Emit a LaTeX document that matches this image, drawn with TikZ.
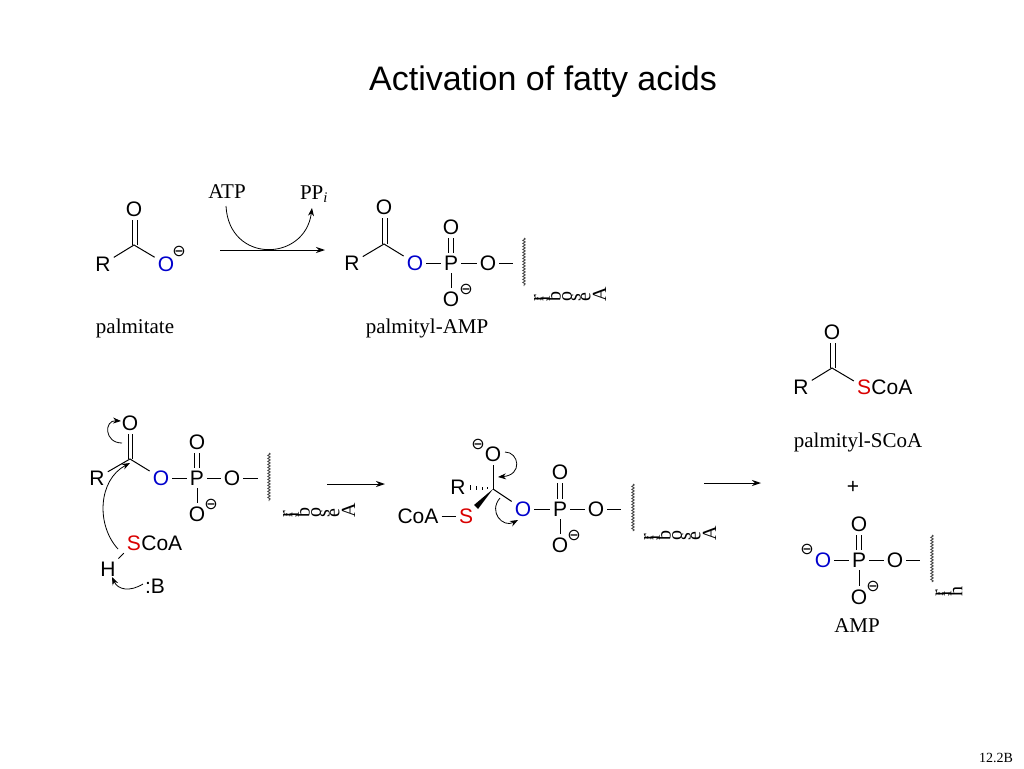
\documentclass[tikz,border=0pt]{standalone}
\usepackage{fontspec}
\usepackage{graphicx}
\usepackage{tikz}
\usetikzlibrary{arrows.meta,decorations.pathmorphing}
\setmainfont{Liberation Serif}
\setsansfont{Liberation Sans}
\newfontfamily\symfont{DejaVu Sans}
\newcommand{\turnedletter}[1]{\setbox0\hbox{#1}\hbox to \dimexpr\wd0+1pt\relax{\hss\rotatebox{90}{#1}}}
\newcommand{\ribosemark}{\turnedletter{r}\turnedletter{i}\turnedletter{b}\turnedletter{o}\turnedletter{s}\turnedletter{e}\turnedletter{A}}
\tikzset{
atom/.style={font=\fontsize{21}{25}\selectfont\sffamily, inner sep=3pt},
blueatom/.style={atom, text=blue!80!black},
redatom/.style={atom, text=red!85!black},
charge/.style={font=\fontsize{16}{18}\selectfont\symfont, inner sep=0pt},
caption/.style={font=\fontsize{21}{25}\selectfont, inner sep=0pt},
bond/.style={draw=black, line width=1pt},
hashbond/.style={draw=black, line width=0.9pt},
wavy/.style={draw=black!70, line width=0.9pt, decorate, decoration={snake, segment length=3pt, amplitude=1.2pt}},
reactarrow/.style={draw=black, line width=1pt, -{Stealth[length=9pt,width=6pt]}},
pusharrow/.style={draw=black, line width=0.8pt, -{Stealth[length=8pt,width=6pt]}},
sugarstack/.style={inner sep=0pt, font=\fontsize{20}{24}\selectfont, anchor=base west},
}
\begin{document}
\begin{tikzpicture}[x=1pt, y=-1pt]
\useasboundingbox (0,0) rectangle (1024,768);
\node[font=\fontsize{34}{40}\selectfont\sffamily, inner sep=0pt] (TitleText) at (543,82) {Activation of fatty acids};
\node[font=\fontsize{14}{16}\selectfont, inner sep=0pt] (PageTag) at (996,758) {12.2B};
\node[atom] (G1NO) at (134,209) {O};
\node[atom] (G1NR) at (103,264) {R};
\node[blueatom] (G1NOb) at (166,264) {O};
\node[charge] (G1Nq) at (179,251) {⊖};
\coordinate (G1NC) at (134,245);
\draw[bond] (G1NR) -- (G1NC) -- (G1NOb);
\draw[bond] ([xshift=-2pt]G1NC) -- ([xshift=-2pt]G1NO.south);
\draw[bond] ([xshift=3pt]G1NC) -- ([xshift=3pt]G1NO.south);
\node[caption] (G1Ncap) at (135,328) {palmitate};
\node[caption] (ArrNatp) at (227,192) {ATP};
\node[caption] (ArrNppi) at (314,194) {PP\textsubscript{\itshape i}};
\coordinate (ArrNa) at (220,250);
\coordinate (ArrNb) at (325,250);
\coordinate (ArrNc) at (226,206);
\coordinate (ArrNd) at (312,208);
\draw[reactarrow] (ArrNa) -- (ArrNb);
\draw[pusharrow] (ArrNc) .. controls (229,264) and (305,262) .. (ArrNd);
\node[atom] (G2NO) at (384,207) {O};
\node[atom] (G2NR) at (352,263) {R};
\node[blueatom] (G2NOb) at (415,263) {O};
\node[atom] (G2NP) at (451,263) {P};
\node[atom] (G2NOt) at (451,227) {O};
\node[atom] (G2NOd) at (451,299) {O};
\node[atom] (G2NOr) at (488,263) {O};
\node[charge] (G2Nq) at (466,289) {⊖};
\coordinate (G2NC) at (384,244);
\coordinate (G2NE) at (513,263);
\coordinate (G2NWa) at (524,238);
\coordinate (G2NWb) at (524,286);
\draw[bond] (G2NR) -- (G2NC) -- (G2NOb);
\draw[bond] ([xshift=-2pt]G2NC) -- ([xshift=-2pt]G2NO.south);
\draw[bond] ([xshift=3pt]G2NC) -- ([xshift=3pt]G2NO.south);
\draw[bond] (G2NOb) -- (G2NP);
\draw[bond] (G2NP) -- (G2NOr);
\draw[bond] (G2NP) -- (G2NOd);
\draw[bond] ([xshift=-2.5pt]G2NP.north) -- ([xshift=-2.5pt]G2NOt.south);
\draw[bond] ([xshift=2.5pt]G2NP.north) -- ([xshift=2.5pt]G2NOt.south);
\draw[bond] (G2NOr) -- (G2NE);
\draw[wavy] (G2NWa) -- (G2NWb);
\node[sugarstack] (G2Nsug) at (535.5,301) {\ribosemark};
\node[caption] (G2Ncap) at (427,328) {palmityl-AMP};
\node[atom] (G3NO) at (832,332) {O};
\node[atom] (G3NR) at (801,387) {R};
\node[redatom] (G3NS) at (864,387) {S};
\node[atom, anchor=west, inner sep=0pt] (G3NCoA) at ([xshift=-3pt]G3NS.east) {CoA};
\coordinate (G3NC) at (832,368);
\draw[bond] (G3NR) -- (G3NC) -- (G3NS);
\draw[bond] ([xshift=-2pt]G3NC) -- ([xshift=-2pt]G3NO.south);
\draw[bond] ([xshift=3pt]G3NC) -- ([xshift=3pt]G3NO.south);
\node[caption] (G3Ncap) at (858,442) {palmityl-SCoA};
\node[atom] (G3Nplus) at (853,487) {+};
\node[atom] (G4NO) at (130,423) {O};
\node[atom] (G4NR) at (97,478) {R};
\node[blueatom] (G4NOb) at (161,478) {O};
\node[atom] (G4NP) at (197,478) {P};
\node[atom] (G4NOt) at (197,442) {O};
\node[atom] (G4NOd) at (197,514) {O};
\node[atom] (G4NOr) at (232,478) {O};
\node[charge] (G4Nq) at (211,504) {⊖};
\coordinate (G4NC) at (130,459);
\coordinate (G4NE) at (258,478);
\coordinate (G4NWa) at (269,453);
\coordinate (G4NWb) at (269,501);
\draw[bond] (G4NR) -- (G4NC) -- (G4NOb);
\draw[bond] ([xshift=-2pt]G4NC) -- ([xshift=-2pt]G4NO.south);
\draw[bond] ([xshift=2pt]G4NC) -- ([xshift=2pt]G4NO.south);
\draw[bond] (G4NOb) -- (G4NP);
\draw[bond] (G4NP) -- (G4NOr);
\draw[bond] (G4NP) -- (G4NOd);
\draw[bond] ([xshift=-2.5pt]G4NP.north) -- ([xshift=-2.5pt]G4NOt.south);
\draw[bond] ([xshift=2.5pt]G4NP.north) -- ([xshift=2.5pt]G4NOt.south);
\draw[bond] (G4NOr) -- (G4NE);
\draw[wavy] (G4NWa) -- (G4NWb);
\node[sugarstack] (G4Nsug) at (284.5,517) {\ribosemark};
\node[redatom] (G4NS) at (134,543) {S};
\node[atom, anchor=west, inner sep=0pt] (G4NCoA) at ([xshift=-3pt]G4NS.east) {CoA};
\node[atom] (G4NH) at (108,569) {H};
\node[atom] (G4NB) at (155,586) {:B};
\draw[bond] (G4NH) -- (G4NS);
\coordinate (G4NAa) at (122,443);
\coordinate (G4NAb) at (121,421);
\coordinate (G4NAc) at (118,549);
\coordinate (G4NAd) at (130,463);
\coordinate (G4NAe) at (143,584);
\coordinate (G4NAf) at (112,577);
\draw[pusharrow] (G4NAa) .. controls (104,443) and (104,420) .. (G4NAb);
\draw[pusharrow] (G4NAc) .. controls (96,525) and (98,480) .. (G4NAd);
\draw[pusharrow] (G4NAe) .. controls (130,592) and (118,590) .. (G4NAf);
\coordinate (Arr2Na) at (327,484);
\coordinate (Arr2Nb) at (385,484);
\draw[reactarrow] (Arr2Na) -- (Arr2Nb);
\node[atom] (G5NO) at (493,454) {O};
\node[charge] (G5Nq) at (478,444) {⊖};
\node[atom] (G5NR) at (458,487) {R};
\node[atom] (G5NCoA) at (418,516) {CoA};
\node[redatom] (G5NS) at (466,516) {S};
\node[blueatom] (G5NOb) at (523,509) {O};
\node[atom] (G5NP) at (560,509) {P};
\node[atom] (G5NOt) at (560,472) {O};
\node[atom] (G5NOd) at (560,545) {O};
\node[atom] (G5NOr) at (596,509) {O};
\node[charge] (G5Nq2) at (574,535) {⊖};
\coordinate (G5NC) at (493,489);
\coordinate (G5NE) at (621,509);
\coordinate (G5NWa) at (633,484);
\coordinate (G5NWb) at (633,531);
\draw[bond] (G5NC) -- (G5NO);
\draw[bond] (G5NC) -- (G5NOb);
\draw[bond] (G5NCoA) -- (G5NS);
\draw[hashbond] ([xshift=-23pt,yshift=4pt]G5NC) -- ([xshift=-23pt,yshift=-1pt]G5NC);
\draw[hashbond] ([xshift=-17pt,yshift=3pt]G5NC) -- ([xshift=-17pt,yshift=-1pt]G5NC);
\draw[hashbond] ([xshift=-11pt,yshift=2pt]G5NC) -- ([xshift=-11pt,yshift=-1pt]G5NC);
\draw[hashbond] ([xshift=-6pt,yshift=2pt]G5NC) -- ([xshift=-6pt,yshift=0pt]G5NC);
\fill (G5NC) -- ([xshift=-19pt,yshift=-16pt]G5NC) -- ([xshift=-15pt,yshift=-20pt]G5NC) -- cycle;
\draw[bond] (G5NOb) -- (G5NP);
\draw[bond] (G5NP) -- (G5NOr);
\draw[bond] (G5NP) -- (G5NOd);
\draw[bond] ([xshift=-2.5pt]G5NP.north) -- ([xshift=-2.5pt]G5NOt.south);
\draw[bond] ([xshift=2.5pt]G5NP.north) -- ([xshift=2.5pt]G5NOt.south);
\draw[bond] (G5NOr) -- (G5NE);
\draw[wavy] (G5NWa) -- (G5NWb);
\node[sugarstack] (G5Nsug) at (645.5,540) {\ribosemark};
\coordinate (G5NAa) at (505,452);
\coordinate (G5NAb) at (498,477);
\coordinate (G5NAc) at (500,498);
\coordinate (G5NAd) at (518,520);
\draw[pusharrow] (G5NAa) .. controls (519,452) and (523,475) .. (G5NAb);
\draw[pusharrow] (G5NAc) .. controls (488,512) and (503,528) .. (G5NAd);
\coordinate (Arr3Na) at (704,483);
\coordinate (Arr3Nb) at (761,483);
\draw[reactarrow] (Arr3Na) -- (Arr3Nb);
\node[atom] (G6NO) at (859,524) {O};
\node[blueatom] (G6NOb) at (823,560) {O};
\node[charge] (G6Nq) at (807,549) {⊖};
\node[atom] (G6NP) at (859,560) {P};
\node[atom] (G6NOd) at (859,597) {O};
\node[charge] (G6Nq2) at (873,586) {⊖};
\node[atom] (G6NOr) at (895,560) {O};
\coordinate (G6NE) at (920,560);
\coordinate (G6NWa) at (932,535);
\coordinate (G6NWb) at (932,582);
\draw[bond] (G6NOb) -- (G6NP);
\draw[bond] (G6NP) -- (G6NOr);
\draw[bond] (G6NP) -- (G6NOd);
\draw[bond] ([xshift=-2.5pt]G6NP.north) -- ([xshift=-2.5pt]G6NO.south);
\draw[bond] ([xshift=2.5pt]G6NP.north) -- ([xshift=2.5pt]G6NO.south);
\draw[bond] (G6NOr) -- (G6NE);
\draw[wavy] (G6NWa) -- (G6NWb);
\node[sugarstack] (G6Nsug) at (937,596) {\turnedletter{r}\turnedletter{i}\turnedletter{h}};
\node[caption] (G6Ncap) at (857,626) {AMP};
\end{tikzpicture}
\end{document}
